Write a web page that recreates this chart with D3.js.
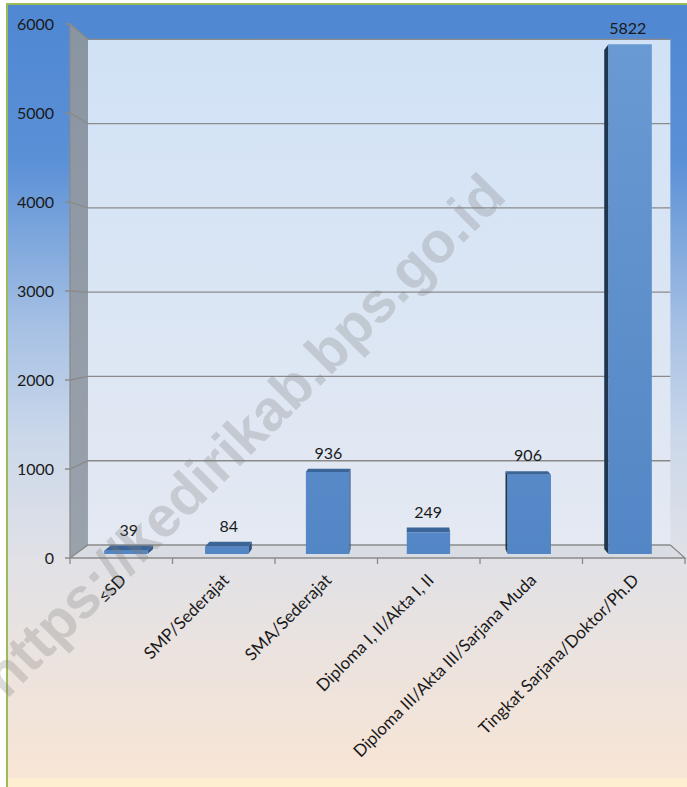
<!DOCTYPE html>
<html>
<head>
<meta charset="utf-8">
<script src="https://cdn.jsdelivr.net/npm/d3@7"></script>
<style>
  body { margin: 0; background: #ffffff; }
  svg { display: block; }
</style>
</head>
<body>
<div id="chart"></div>
<script>
// data
const categories = ['≤SD', 'SMP/Sederajat', 'SMA/Sederajat', 'Diploma I, II/Akta I, II', 'Diploma III/Akta III/Sarjana Muda', 'Tingkat Sarjana/Doktor/Ph.D'];
const values = [39, 84, 936, 249, 906, 5822];
const yTicks = [0, 1000, 2000, 3000, 4000, 5000, 6000];

const W = 687, H = 787;
const font = 'Lato, "Open Sans", sans-serif';

const svg = d3.select('#chart').append('svg')
  .attr('width', W)
  .attr('height', H);

const defs = svg.append('defs');

// background gradient
const bg = defs.append('linearGradient').attr('id', 'bg')
  .attr('x1', 0).attr('y1', 0).attr('x2', 0).attr('y2', 1);
[[0, '#4f87d2'], [0.2, '#5a90d6'], [0.42, '#a7c1e4'], [0.56, '#cbd8ea'], [0.72, '#e1e1e6'], [1, '#f8e5d5']]
  .forEach(([o, c]) => bg.append('stop').attr('offset', o).attr('stop-color', c));

const wall = defs.append('linearGradient').attr('id', 'wall')
  .attr('x1', 0).attr('y1', 0).attr('x2', 0).attr('y2', 1);
wall.append('stop').attr('offset', 0).attr('stop-color', '#d1e2f6');
wall.append('stop').attr('offset', 1).attr('stop-color', '#e4e9f2');

const side = defs.append('linearGradient').attr('id', 'side')
  .attr('x1', 0).attr('y1', 0).attr('x2', 0).attr('y2', 1);
side.append('stop').attr('offset', 0).attr('stop-color', '#8a95a2');
side.append('stop').attr('offset', 1).attr('stop-color', '#9aa2ac');

const barFill = defs.append('linearGradient').attr('id', 'barFill')
  .attr('gradientUnits', 'userSpaceOnUse')
  .attr('x1', 0).attr('y1', 40).attr('x2', 0).attr('y2', 558);
barFill.append('stop').attr('offset', 0).attr('stop-color', '#6a9ad3');
barFill.append('stop').attr('offset', 1).attr('stop-color', '#5386c5');

svg.append('rect')
  .attr('x', 7).attr('y', 4)
  .attr('width', W - 7).attr('height', 774)
  .attr('fill', 'url(#bg)');
svg.append('rect')
  .attr('x', 7).attr('y', 778)
  .attr('width', W - 7).attr('height', H - 778)
  .attr('fill', '#fdefcf');
svg.append('line')
  .attr('x1', 7).attr('x2', 7).attr('y1', 3).attr('y2', H)
  .attr('stroke', '#9bbb59').attr('stroke-width', 2);
svg.append('line')
  .attr('x1', 6).attr('x2', W).attr('y1', 4).attr('y2', 4)
  .attr('stroke', '#9bbb59').attr('stroke-width', 2);

// front plane scales
const x = d3.scaleBand().domain(categories).range([70, 685]);
const y = d3.scaleLinear().domain([0, 6000]).range([558, 24]);

// perspective: vanishing point and depth factors
const vx = 409, vy = 313;
const sBack = 0.947, sBarFront = 0.984, sBarBack = 0.963;
const proj = (px, py, s) => [vx + s * (px - vx), vy + s * (py - vy)];
const poly = (pts) => 'M' + pts.map(p => p.join(',')).join('L') + 'Z';

const x0 = x.range()[0], x1 = x.range()[1];

// back wall
svg.append('path')
  .attr('d', poly([proj(x0, y(6000), sBack), proj(x1, y(6000), sBack), proj(x1, y(0), sBack), proj(x0, y(0), sBack)]))
  .attr('fill', 'url(#wall)');

// floor
svg.append('path')
  .attr('d', poly([proj(x0, y(0), sBack), proj(x1, y(0), sBack), proj(x1, y(0), 1), proj(x0, y(0), 1)]))
  .attr('fill', '#d9dce3');

// side wall
svg.append('path')
  .attr('d', poly([proj(x0, y(6000), 1), proj(x0, y(6000), sBack), proj(x0, y(0), sBack), proj(x0, y(0), 1)]))
  .attr('fill', 'url(#side)');

// gridlines on back wall and side wall
const grid = svg.append('g').attr('stroke', '#8a8a8a').attr('stroke-width', 1.3).attr('fill', 'none');
yTicks.forEach(t => {
  const a = proj(x0, y(t), 1), b = proj(x0, y(t), sBack), c = proj(x1, y(t), sBack);
  grid.append('path').attr('d', `M${x0 - 5},${y(t)}L${a}L${b}L${c}`);
});
// floor edges
grid.append('path').attr('d', `M${x0},${y(0)}L${x1},${y(0)}L${proj(x1, y(0), sBack)}`);
grid.append('path').attr('d', `M${x0},${y(0)}L${x0},${y(6000)}`);

// x ticks
x.domain().concat([null]).forEach((c, i) => {
  const px = c === null ? x1 : x(c);
  grid.append('line').attr('x1', px).attr('x2', px).attr('y1', y(0)).attr('y2', y(0) + 6);
});

// bars
const barW = x.bandwidth() * 0.43;
const bars = svg.append('g');
categories.forEach((c, i) => {
  const v = values[i];
  const cx = x(c) + x.bandwidth() / 2;
  const l = cx - barW / 2, r = cx + barW / 2;
  const top = y(v), bot = y(0);
  const g = bars.append('g');
  // side face
  if (r < vx) {
    g.append('path')
      .attr('d', poly([proj(r, top, sBarFront), proj(r, top, sBarBack), proj(r, bot, sBarBack), proj(r, bot, sBarFront)]))
      .attr('fill', '#2f5282');
  } else if (l > vx) {
    g.append('path')
      .attr('d', poly([proj(l, top, sBarFront), proj(l, top, sBarBack), proj(l, bot, sBarBack), proj(l, bot, sBarFront)]))
      .attr('fill', '#1f3651');
  }
  // top face
  if (proj(cx, top, sBarFront)[1] > vy) {
    g.append('path')
      .attr('d', poly([proj(l, top, sBarFront), proj(r, top, sBarFront), proj(r, top, sBarBack), proj(l, top, sBarBack)]))
      .attr('fill', '#3b6498');
  }
  // front face
  g.append('path')
    .attr('d', poly([proj(l, top, sBarFront), proj(r, top, sBarFront), proj(r, bot, sBarFront), proj(l, bot, sBarFront)]))
    .attr('fill', 'url(#barFill)');

  // value label
  const lp = proj(cx, top, (sBarFront + sBarBack) / 2);
  const minY = Math.min(proj(cx, top, sBarFront)[1], proj(cx, top, sBarBack)[1]);
  svg.append('text')
    .attr('x', lp[0])
    .attr('y', minY - 10)
    .attr('text-anchor', 'middle')
    .attr('font-family', font)
    .attr('font-size', 16)
    .attr('fill', '#1a1a1a')
    .text(d3.format('d')(v));
});

// y axis labels
svg.append('g').selectAll('text')
  .data(yTicks)
  .enter()
  .append('text')
  .attr('x', 54)
  .attr('y', d => y(d))
  .attr('dy', '0.36em')
  .attr('text-anchor', 'end')
  .attr('font-family', font)
  .attr('font-size', 16)
  .attr('fill', '#1a1a1a')
  .text(d => d);

// x axis labels, rotated
svg.append('g').selectAll('text')
  .data(categories)
  .enter()
  .append('text')
  .attr('transform', d => `translate(${x(d) + x.bandwidth() / 2 + 2},${y(0) + 19}) rotate(-45)`)
  .attr('dy', '0.35em')
  .attr('text-anchor', 'end')
  .attr('font-family', 'Lato, "DejaVu Sans", sans-serif')
  .attr('font-size', 17)
  .attr('fill', '#1a1a1a')
  .text(d => d);

// watermark
svg.append('text')
  .attr('transform', 'translate(494,184) rotate(-45)')
  .attr('text-anchor', 'end')
  .attr('dy', '0.35em')
  .attr('font-family', '"Liberation Sans", Arial, sans-serif')
  .attr('font-weight', 'bold')
  .attr('font-size', 57)
  .attr('fill', '#7f7f7f')
  .attr('fill-opacity', 0.28)
  .text('https://kedirikab.bps.go.id');
</script>
</body>
</html>
